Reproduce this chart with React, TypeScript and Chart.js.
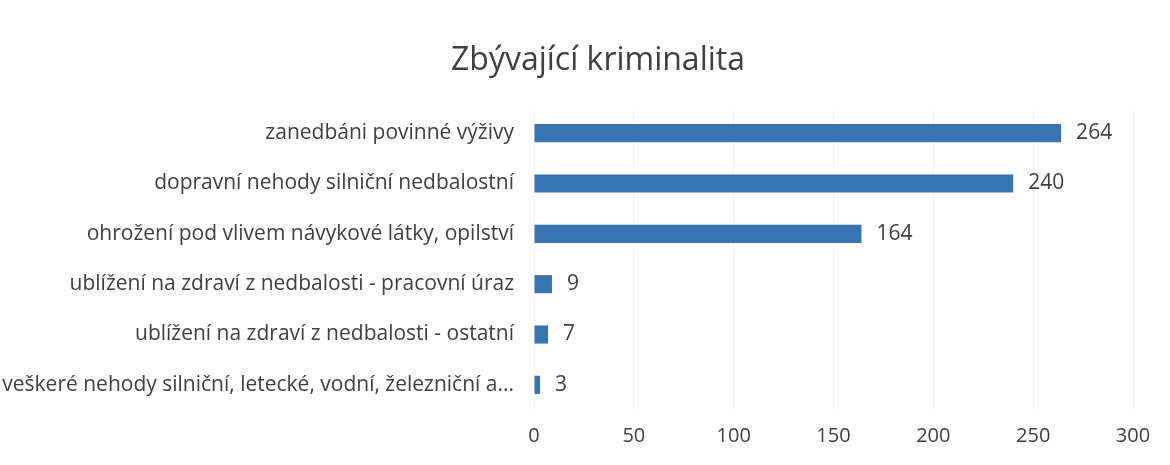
import React, { useEffect, useRef } from "react";
import { Chart, registerables } from "chart.js";

Chart.register(...registerables);

const chartTitle = "Zbývající kriminalita";
const categories = [
  "zanedbáni povinné výživy",
  "dopravní nehody silniční nedbalostní",
  "ohrožení pod vlivem návykové látky, opilství",
  "ublížení na zdraví z nedbalosti - pracovní úraz",
  "ublížení na zdraví z nedbalosti - ostatní",
  "veškeré nehody silniční, letecké, vodní, železniční a...",
];
const values = [264, 240, 164, 9, 7, 3];
const xMin = 0;
const xMax = 300;
const xStep = 50;

const FONT = "'Open Sans', sans-serif";
const TEXT = "#404040";

const valueLabels = {
  id: "valueLabels",
  afterDatasetsDraw(chart: any) {
    const ctx = chart.ctx;
    const meta = chart.getDatasetMeta(0);
    ctx.save();
    ctx.font = `21px ${FONT}`;
    ctx.fillStyle = TEXT;
    ctx.textAlign = "left";
    ctx.textBaseline = "middle";
    meta.data.forEach((bar: any, i: number) => {
      ctx.fillText(String(values[i]), bar.x + 15, bar.y);
    });
    // title
    ctx.font = `32px ${FONT}`;
    ctx.textAlign = "center";
    ctx.fillText(chartTitle, 598, 61);
    ctx.restore();
  },
};

export default function App() {
  const ref = useRef<HTMLCanvasElement>(null);
  useEffect(() => {
    document.body.style.margin = "0";
    const chart = new Chart(ref.current!, {
      type: "bar",
      data: {
        labels: categories,
        datasets: [
          {
            data: values,
            backgroundColor: "#3873b2",
            barPercentage: 0.36,
            categoryPercentage: 1,
          },
        ],
      },
      options: {
        indexAxis: "y",
        animation: false,
        responsive: false,
        layout: { padding: { left: 0, right: 37, top: 108, bottom: 0 } },
        plugins: {
          legend: { display: false },
          tooltip: { enabled: false },
          title: { display: false },
        },
        scales: {
          x: {
            min: xMin,
            max: xMax,
            ticks: {
              stepSize: xStep,
              color: TEXT,
              font: { family: FONT, size: 20 },
              padding: 14,
            },
            grid: { color: "#f3f3f3", drawTicks: false },
            border: { display: false },
            afterFit: (s: any) => {
              s.height = 55;
            },
          },
          y: {
            ticks: {
              color: TEXT,
              font: { family: FONT, size: 21 },
              padding: 20,
              autoSkip: false,
            },
            grid: { display: false, drawTicks: false },
            border: { display: false },
            afterFit: (s: any) => {
              s.width = 534;
            },
          },
        },
      },
      plugins: [valueLabels],
    });
    return () => chart.destroy();
  }, []);
  return (
    <div style={{ width: 1170, height: 465, background: "#fff" }}>
      <canvas ref={ref} width={1170} height={465} />
    </div>
  );
}
